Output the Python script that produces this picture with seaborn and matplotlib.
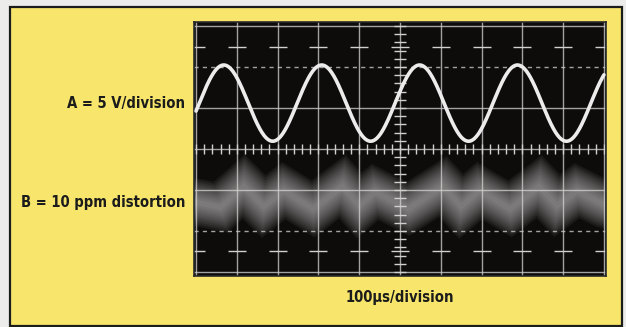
import numpy as np
import seaborn as sns
import matplotlib.pyplot as plt
from matplotlib import font_manager as fm
from matplotlib.patches import Rectangle

# trace A: sine (divisions)
a_period = 2.40      # div per cycle
a_first_peak = 0.68  # div
a_offset = 1.12      # div above centre line
a_amplitude = 0.93   # div

# trace B: distortion residue, centre of the fuzzy band (x div, y div)
b_x = [0.0, 0.60, 1.17, 1.66, 2.15, 2.87, 3.59, 4.00, 4.39, 5.20, 6.05,
       6.50, 6.95, 7.70, 8.41, 8.85, 9.34, 10.0]
b_y = [-1.30, -1.42, -0.92, -1.40, -1.02, -1.46, -0.92, -1.38, -1.05, -1.46,
       -0.92, -1.40, -1.02, -1.46, -0.92, -1.38, -1.02, -1.35]

labels_left = ["A = 5 V/division", "B = 10 ppm distortion"]
label_y = [1.12, -1.30]
time_label = "100\u03bcs/division"


def narrow_font():
    # look for a condensed bold face; fall back to DejaVu Sans bold
    for fam, stretch in [('Liberation Sans Narrow', 'normal'),
                         ('Noto Sans', 'condensed'),
                         ('DejaVu Sans', 'condensed'),
                         ('Open Sans', 'condensed')]:
        prop = fm.FontProperties(family=fam, weight='bold', stretch=stretch)
        try:
            path = fm.findfont(prop, fallback_to_default=False)
        except ValueError:
            continue
        if 'ondensed' in path or 'arrow' in path:
            return fm.FontProperties(fname=path)
    return fm.FontProperties(family='DejaVu Sans', weight='bold')


sns.set_style("dark")
font = narrow_font()
font.set_size(13)

fig = plt.figure(figsize=(6.26, 3.27), dpi=100)
fig.patch.set_facecolor('#ececea')
fig.add_artist(Rectangle((10 / 626, 0.004), 612 / 626, 0.975,
                         transform=fig.transFigure, facecolor='#f7e66b',
                         edgecolor='#1c1c1c', lw=1.6, zorder=-10))

ax = fig.add_axes([194 / 626, 51 / 327, 412 / 626, 254 / 327])
ax.set_zorder(5)
ax.set_facecolor('#0e0b0b')
ax.set_xlim(-0.05, 10.05)
ax.set_ylim(-3.1, 3.1)

# graticule
grid_kw = dict(color='#c9c9c9', lw=1.0, alpha=0.8, zorder=1)
for gx in range(0, 11):
    ax.axvline(gx, **grid_kw)
for gy in [-3, -1, 0, 1, 3]:
    ax.axhline(gy, **grid_kw)
for gy in [-2, 2]:
    ax.axhline(gy, color='#c9c9c9', lw=1.0, alpha=0.8, ls=(0, (3, 3)), zorder=1)

minor = np.arange(-3, 3.01, 0.2)
ax.plot(np.full_like(minor, 5.0), minor, ls='none', marker='_', ms=8,
        mew=1.0, color='#d0d0d0', zorder=1)
minor_x = np.arange(0, 10.01, 0.2)
ax.plot(minor_x, np.zeros_like(minor_x), ls='none', marker='|', ms=7,
        mew=1.0, color='#d0d0d0', zorder=1)
cross_x = np.arange(0, 11)
for cy in [2.5, -2.5]:
    ax.plot(cross_x, np.full(len(cross_x), cy), ls='none', marker='_', ms=13,
            mew=1.0, color='#d0d0d0', zorder=1)

# trace B as a glowing band
for lw in range(34, 3, -3):
    sns.lineplot(x=b_x, y=b_y, ax=ax, color='#dadada', lw=lw, alpha=0.07,
                 solid_joinstyle='miter', zorder=2)

# trace A
t = np.linspace(0, 10, 800)
a_y = a_offset + a_amplitude * np.cos(2 * np.pi * (t - a_first_peak) / a_period)
sns.lineplot(x=t, y=a_y, ax=ax, color='#ececec', lw=2.6, zorder=3)

ax.set_xticks([])
ax.set_yticks([])
ax.set_xlabel('')
ax.set_ylabel('')
for s in ax.spines.values():
    s.set_color('#2a2a2a')
    s.set_linewidth(1.2)

texts = []
for txt, ly in zip(labels_left, label_y):
    texts.append(ax.text(-0.27, ly, txt, ha='right', va='center',
                         fontproperties=font, color='#1b1b1b', clip_on=False))
texts.append(ax.text(5.0, -3.62, time_label, ha='center', va='center',
                     fontproperties=font, color='#1b1b1b', clip_on=False))

# size the labels so "A = 5 V/division" is about 118 px wide, as in the print
renderer = fig.canvas.get_renderer()
w = texts[0].get_window_extent(renderer).width
for tx in texts:
    tx.set_fontsize(13 * 118 / w)

fig.savefig('out.png', dpi=100, facecolor=fig.get_facecolor())
